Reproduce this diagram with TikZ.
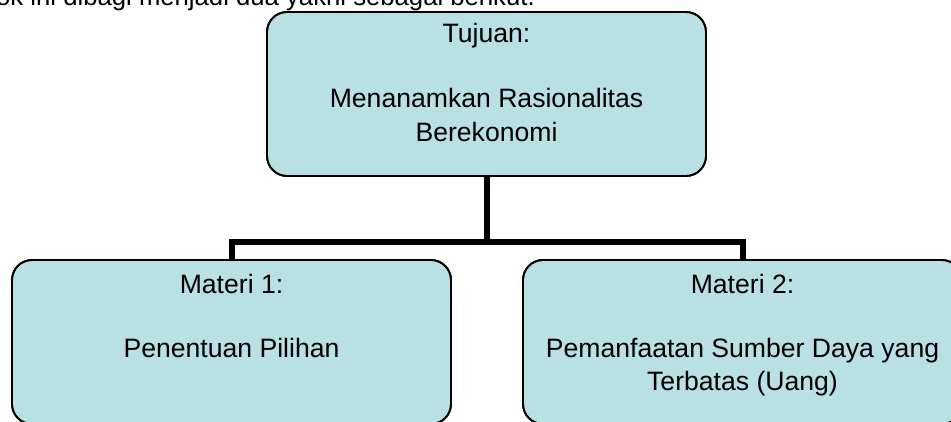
\documentclass[tikz,border=0pt]{standalone}
\usepackage{fontspec}
\setmainfont{Liberation Sans}
\definecolor{boxfill}{RGB}{185,224,227}
\begin{document}
\begin{tikzpicture}[x=1pt,y=1pt,
  box/.style={draw=black, line width=1.8pt, fill=boxfill, rounded corners=20pt,
    minimum width=439pt, minimum height=164pt, inner sep=0pt, outer sep=0pt},
  conn/.style={draw=black, line width=6pt, line join=miter},
  txt/.style={anchor=base, inner sep=0pt, font=\fontsize{26.6}{32}\selectfont},
  intro/.style={anchor=base east, inner sep=0pt, font=\fontsize{25.7}{30}\selectfont}]
\useasboundingbox (0,0) rectangle (951,421);
\clip (0,0) rectangle (951,421);
\node[intro] (intro) at (535,415) {ok ini dibagi menjadi dua yakni sebagai berikut.};
% boxes
\node[box] (top) at (486.5,327) {};
\node[box] (left) at (231.5,79) {};
\node[box] (right) at (742.5,79) {};
% connectors
\coordinate (j) at (486.5,179);
\draw[conn] (top.south) -- (j);
\draw[conn] (left.north) -- (left.north |- j) -- (right.north |- j) -- (right.north);
% redraw box borders over connector ends
\node[box, fill=none] at (top) {};
\node[box, fill=none] at (left) {};
\node[box, fill=none] at (right) {};
% texts
\node[txt] (t1) at (486.5,378) {Tujuan:};
\node[txt] (t2) at (486.5,313) {Menanamkan Rasionalitas};
\node[txt] (t3) at (486.5,279) {Berekonomi};
\node[txt] (l1) at (231.5,128) {Materi 1:};
\node[txt] (l2) at (231.5,64) {Penentuan Pilihan};
\node[txt] (r1) at (742.5,128) {Materi 2:};
\node[txt] (r2) at (742.5,64) {Pemanfaatan Sumber Daya yang};
\node[txt] (r3) at (742.5,31) {Terbatas (Uang)};
\end{tikzpicture}
\end{document}
